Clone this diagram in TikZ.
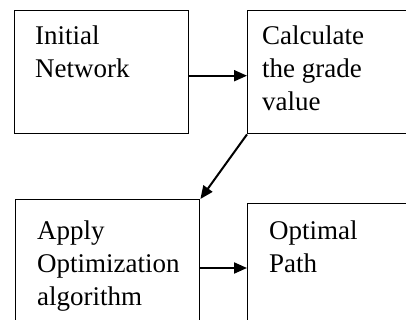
\documentclass[tikz,border=0pt]{standalone}
\usepackage{fontspec}
\setmainfont{Liberation Serif}
\usetikzlibrary{arrows.meta}

\tikzset{
  stepbox/.style={draw, line width=1.4pt, rectangle, anchor=north west, inner sep=0pt},
  boxtext/.style={anchor=base west, align=left, inner sep=0pt, font=\fontsize{27}{33}\selectfont},
  flow/.style={line width=2pt, -{Triangle[length=13pt,width=11pt]}}
}

\begin{document}
\begin{tikzpicture}[x=1pt, y=-1pt]
    \useasboundingbox (0,0) rectangle (406,320);
    \clip (0,0) rectangle (406,320);
    % Boxes
    \node[stepbox, minimum width=174pt, minimum height=123pt] (init) at (14,10) {};
    \node[stepbox, minimum width=180pt, minimum height=123pt] (calc) at (247,10) {};
    \node[stepbox, minimum width=184pt, minimum height=140pt] (apply) at (15,199) {};
    \node[stepbox, minimum width=180pt, minimum height=140pt] (path) at (247,203) {};
    % Texts (anchored on the last line)
    \node[boxtext] (initT) at (35,78) {Initial\\Network};
    \node[boxtext] (calcT) at (262,111) {Calculate\\the grade\\value};
    \node[boxtext] (applyT) at (37,305) {Apply\\Optimization\\algorithm};
    \node[boxtext] (pathT) at (269,272) {Optimal\\Path};
    % Connectors
    \draw[flow] ([yshift=-3.5pt]init.east) -- ([yshift=-3.5pt]init.east -| calc.west);
    \draw[flow] (calc.south west) -- (apply.north east);
    \draw[flow] ([yshift=-69pt]apply.north east) -- ([yshift=-69pt]apply.north east -| path.west);
\end{tikzpicture}
\end{document}
